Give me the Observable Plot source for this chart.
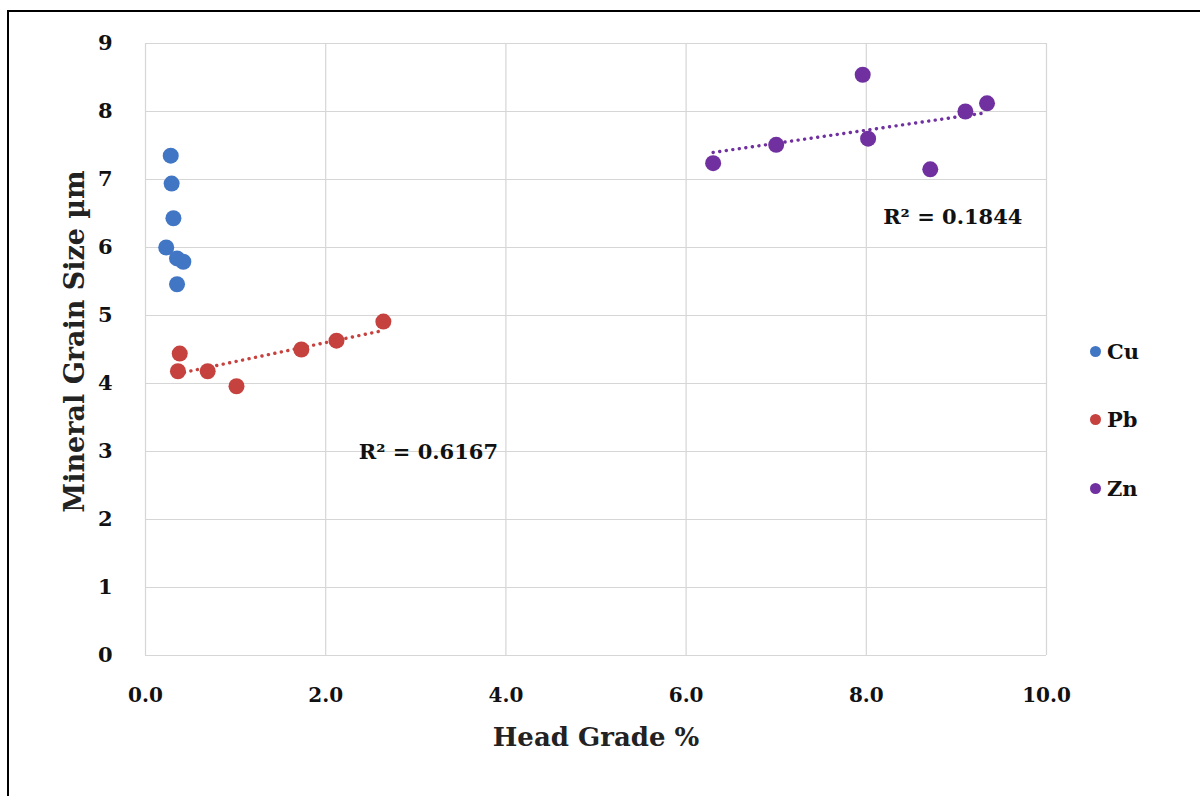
<!DOCTYPE html>
<html>
<head>
<meta charset="utf-8">
<script src="https://cdn.jsdelivr.net/npm/d3@7"></script>
<script src="https://cdn.jsdelivr.net/npm/@observablehq/plot@0.6"></script>
<style>
  html, body { margin: 0; padding: 0; background: #fff; }
  #wrap { position: relative; width: 1200px; height: 796px; overflow: hidden; }
  #frame { position: absolute; left: 7px; top: 10px; right: -10px; bottom: -10px;
           border-left: 2px solid #000; border-top: 2px solid #000; pointer-events: none; }
  #legend { position: absolute; left: 1090px; top: 334px; font-family: "DejaVu Serif", serif;
            font-weight: bold; font-size: 21px; color: #111; }
  .item { display: flex; align-items: center; height: 34px; margin-bottom: 34.5px; }
  .sw { width: 11px; height: 11px; border-radius: 50%; margin-right: 6px; }
</style>
</head>
<body>
<div id="wrap"><div id="frame"></div><div id="legend"></div></div>
<script>
// Series names and colours
const series = ["Cu", "Pb", "Zn"];
const colors = ["#4176c4", "#c6423f", "#7030a0"];

// Cu
const cuX = [0.28, 0.29, 0.31, 0.23, 0.35, 0.42, 0.35];
const cuY = [7.35, 6.94, 6.43, 6.00, 5.84, 5.79, 5.46];
// Pb
const pbX = [0.38, 0.36, 0.69, 1.01, 1.73, 2.12, 2.64];
const pbY = [4.44, 4.18, 4.18, 3.96, 4.50, 4.63, 4.91];
// Zn
const znX = [6.30, 7.00, 7.96, 8.02, 8.71, 9.10, 9.34];
const znY = [7.24, 7.51, 8.54, 7.60, 7.15, 8.00, 8.12];

// Axis ticks
const xTicks = [0, 2, 4, 6, 8, 10];
const yTicks = [0, 1, 2, 3, 4, 5, 6, 7, 8, 9];

// Trendline R² annotations
const r2Labels = ["R² = 0.6167", "R² = 0.1844"];
const r2X = [3.14, 8.96];
const r2Y = [2.99, 6.44];

const toRows = (name, xs, ys) => xs.map((x, i) => ({series: name, x, y: ys[i]}));
const data = [
  ...toRows("Cu", cuX, cuY),
  ...toRows("Pb", pbX, pbY),
  ...toRows("Zn", znX, znY)
];
const trendData = data.filter(d => d.series !== "Cu");
const annotations = r2Labels.map((t, i) => ({text: t, x: r2X[i], y: r2Y[i]}));

const font = "DejaVu Serif, serif";

const chart = Plot.plot({
  width: 1200,
  height: 796,
  marginLeft: 145,
  marginRight: 154,
  marginTop: 43,
  marginBottom: 141,
  style: {fontFamily: font, fontSize: "20px", fontWeight: "bold", background: "transparent", color: "#111"},
  x: {domain: [0, 10]},
  y: {domain: [0, 9]},
  color: {domain: series, range: colors},
  marks: [
    Plot.gridX(xTicks, {stroke: "#d6d6d6", strokeOpacity: 1, strokeWidth: 1.2}),
    Plot.gridY(yTicks, {stroke: "#d6d6d6", strokeOpacity: 1, strokeWidth: 1.2}),
    Plot.axisX(xTicks, {tickSize: 0, tickPadding: 32, tickFormat: d => d.toFixed(1), label: null, fontSize: 20}),
    Plot.axisY(yTicks, {tickSize: 0, tickPadding: 33, tickFormat: d => String(d), label: null, fontSize: 21}),
    Plot.linearRegressionY(trendData, {
      x: "x", y: "y", z: "series", stroke: "series", ci: 0,
      strokeWidth: 3.4, strokeDasharray: "0.1,6.5", strokeLinecap: "round"
    }),
    Plot.dot(data, {x: "x", y: "y", fill: "series", r: 8}),
    Plot.text(annotations, {x: "x", y: "y", text: "text", fontSize: 21, fontWeight: "bold", fill: "#111"}),
    Plot.text(["Head Grade %"], {frameAnchor: "bottom", dy: 90, fontSize: 26, fontWeight: "bold", fill: "#222"}),
    Plot.text(["Mineral Grain Size µm"], {frameAnchor: "left", textAnchor: "middle", dx: -70, dy: -8, rotate: -90, fontSize: 27, fontWeight: "bold", fill: "#222"})
  ]
});

const wrap = document.getElementById("wrap");
wrap.insertBefore(chart, wrap.firstChild);

const legend = document.getElementById("legend");
series.forEach((s, i) => {
  const item = document.createElement("div");
  item.className = "item";
  const sw = document.createElement("span");
  sw.className = "sw";
  sw.style.background = colors[i];
  const label = document.createElement("span");
  label.textContent = s;
  item.appendChild(sw);
  item.appendChild(label);
  legend.appendChild(item);
});
</script>
</body>
</html>
